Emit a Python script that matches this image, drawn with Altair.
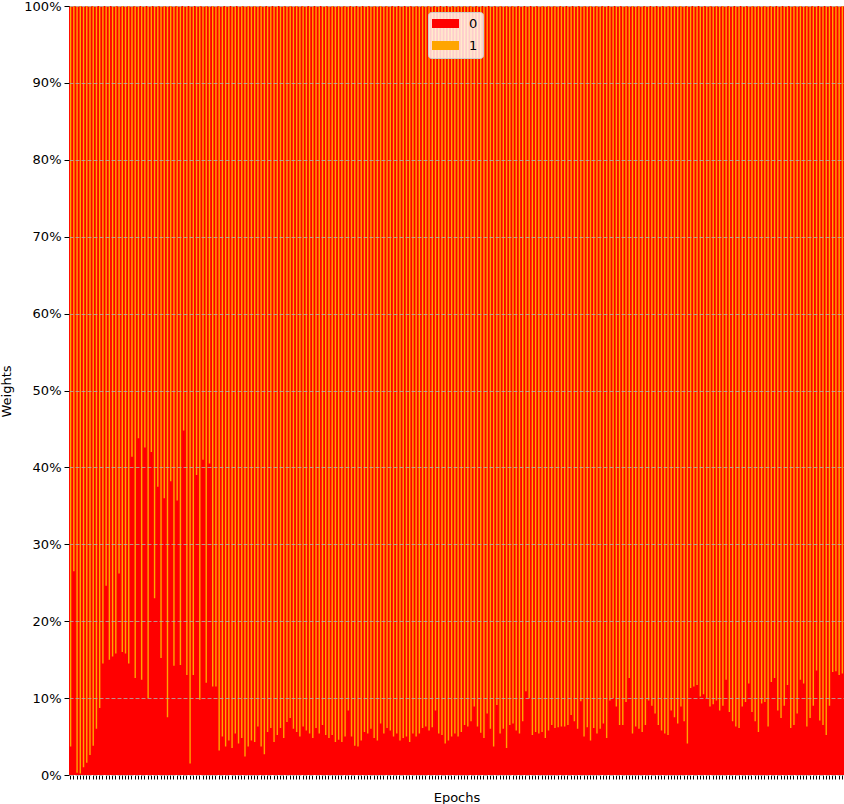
import altair as alt
import pandas as pd

# Share (in %) of weight "0" per epoch; "1" is the rest.
weight_0 = [
    3.7, 26.5, 0.3, 0.2, 1.0, 1.6, 2.6, 3.8, 6.0, 8.7,
    14.5, 24.6, 15.0, 15.4, 15.8, 26.2, 16.0, 15.8, 14.5, 41.4,
    12.6, 43.8, 12.4, 42.6, 10.0, 42.0, 23.0, 37.5, 15.2, 36.0,
    7.5, 38.2, 14.2, 35.7, 14.3, 44.8, 13.0, 1.5, 13.0, 39.0,
    9.8, 41.0, 12.0, 40.5, 11.5, 11.5, 3.2,
    5.0, 3.7, 4.5, 3.5, 5.4, 4.1, 4.8, 2.4, 3.7, 4.5,
    4.3, 6.3, 3.7, 2.7, 5.6, 6.1, 4.3, 5.2, 6.1, 4.8,
    6.9, 7.4, 6.0, 5.6, 5.0, 6.3, 5.8, 5.4, 4.8, 6.1,
    5.4, 6.5, 5.2,
    4.8, 5.2, 4.3, 4.6, 4.3, 5.0, 8.4, 5.0, 3.8, 3.7,
    4.5, 5.6, 5.4, 6.0, 4.8, 4.5, 6.7, 5.4, 6.1, 5.8,
    5.0, 5.4, 4.5, 4.8, 5.0, 4.3, 5.4, 5.0, 5.4, 6.1,
    6.3, 5.8, 6.2, 8.4, 5.4, 5.2, 4.1, 4.5, 5.0, 5.4,
    5.0, 5.6, 6.5, 6.3, 7.0, 8.9, 6.3, 5.5, 4.8, 8.0,
    6.0, 3.7, 9.1, 5.4, 6.0, 3.5, 6.5, 6.7, 5.8, 5.4,
    7.0, 10.9, 10.0, 5.2, 5.6, 5.4, 5.6, 4.8, 5.8, 6.5,
    6.1, 6.2, 6.3, 6.3, 6.5, 7.8, 7.0, 6.0, 9.6, 5.0,
    6.2,
    4.5, 6.1, 5.4, 6.0, 6.7, 4.8, 9.7, 10.0, 8.9, 6.5,
    6.5, 9.5, 12.6, 5.4, 6.3, 6.0, 5.6, 6.5, 9.7, 9.0,
    8.0, 6.5, 5.8, 5.4, 5.2, 8.4, 7.5, 6.7, 8.9, 7.0,
    4.1, 11.3, 11.5, 11.7, 10.2, 10.5, 10.0, 8.9, 9.2, 9.7,
    8.4, 9.0, 12.4, 8.2, 7.0, 6.3, 6.1, 8.9, 9.5, 11.9,
    8.2, 7.0, 5.6, 9.3, 9.5, 6.3, 12.1, 12.6, 8.4, 7.4,
    9.0, 11.7, 6.1, 6.5, 8.0, 12.4, 11.9, 6.3, 7.4, 9.0,
    13.6, 7.1, 6.5, 5.2, 9.0, 13.4, 13.5, 13.0, 13.2,
]
epochs = list(range(len(weight_0)))
weight_1 = [round(100 - v, 1) for v in weight_0]

series_names = ["0", "1"]
series_colors = ["#ff0000", "#ffa500"]
y_ticks = [i / 10 for i in range(11)]

df = pd.DataFrame({"epoch": epochs, "0": weight_0, "1": weight_1})

base = alt.Chart(df).transform_fold(
    series_names, as_=["series", "weight"]
).transform_stack(
    stack="weight",
    groupby=["epoch"],
    as_=["y0", "y1"],
    offset="normalize",
    sort=[alt.SortField("series", order="ascending")],
)

color = alt.Color(
    "series:N",
    scale=alt.Scale(domain=series_names, range=series_colors),
    legend=alt.Legend(
        title=None,
        orient="none",
        legendX=359,
        legendY=6,
        fillColor="rgba(255,255,255,0.8)",
        strokeColor="#cccccc",
        cornerRadius=3,
        padding=5,
        symbolType="M-3,-1H3V1H-3Z",
        symbolSize=81,
        symbolOffset=6,
        symbolStrokeWidth=0,
        symbolOpacity=1,
        labelFontSize=13,
        labelFont="DejaVu Sans",
        labelColor="black",
        labelOffset=17,
        rowPadding=8,
    ),
)

x_enc = alt.X(
    "epoch:O",
    scale=alt.Scale(paddingInner=0, paddingOuter=0),
    axis=alt.Axis(
        labels=False,
        ticks=True,
        tickSize=4,
        tickColor="black",
        domain=False,
        grid=False,
        title="Epochs",
        titleFontSize=13,
        titleY=22,
        titleBaseline="middle",
    ),
)

y_enc = alt.Y(
    "y0:Q",
    scale=alt.Scale(domain=[0, 1], nice=False),
    axis=alt.Axis(
        format=".0%",
        values=y_ticks,
        grid=True,
        gridDash=[4, 2],
        gridColor="#b0b0b0",
        gridOpacity=0.8,
        zindex=1,
        tickSize=5,
        tickColor="black",
        labelPadding=3,
        labelFontSize=13,
        labelColor="black",
        domain=False,
        title="Weights",
        titleFontSize=13,
        titleAngle=-90,
        titleX=-63,
        titleY=385,
        titleAlign="center",
        titleBaseline="middle",
    ),
)

red = base.transform_filter(alt.datum.series == "0").mark_bar().encode(
    x=x_enc, y=y_enc, y2="y1:Q", color=color
)
orange = base.transform_filter(alt.datum.series == "1").mark_bar(size=1.4).encode(
    x=x_enc, y=y_enc, y2="y1:Q", color=color
)

chart = (
    alt.layer(red, orange)
    .properties(
        width=775,
        height=769,
        autosize=alt.AutoSizeParams(type="none"),
        padding={"left": 69, "top": 6, "right": 0, "bottom": 29},
    )
    .configure_view(fill="#ff0000", stroke=None)
    .configure_axis(
        labelFont="DejaVu Sans",
        titleFont="DejaVu Sans",
        titleFontWeight="normal",
        titleColor="black",
    )
)

chart.save("out.html", embed_options={"renderer": "svg", "actions": False})
